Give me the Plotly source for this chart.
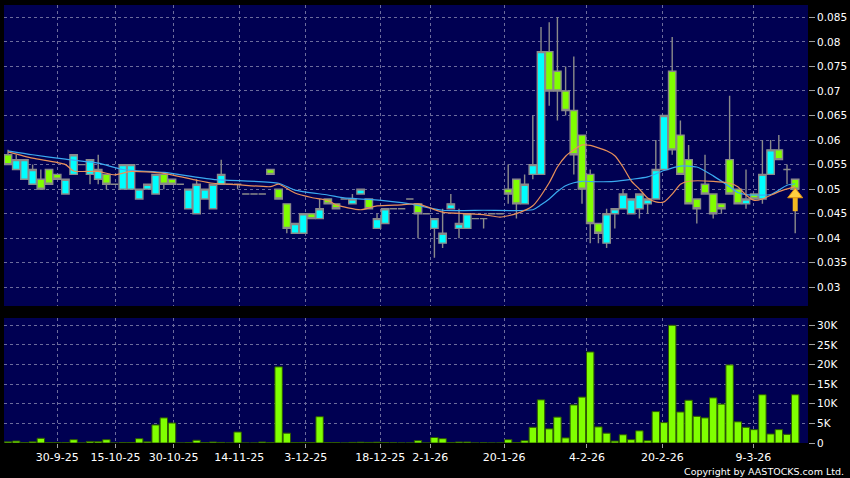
import plotly.graph_objects as go

# ---------------- data ----------------
opens = [0.057, 0.054, 0.052, 0.051, 0.052, 0.054, 0.053, 0.049, 0.053, 0.055,
         0.053, 0.052, 0.053, 0.051, 0.050, 0.050, 0.048, 0.050, 0.049, 0.053,
         0.052, 0.051, 0.046, 0.045, 0.048, 0.046, 0.051, 0.051, 0.051, 0.049,
         0.049, 0.049, 0.054, 0.050, 0.047, 0.041, 0.041, 0.045, 0.044, 0.048,
         0.047, 0.048, 0.047, 0.049, 0.048, 0.042, 0.043, 0.046, 0.046, 0.048,
         0.047, 0.045, 0.042, 0.039, 0.046, 0.042, 0.042, 0.044, 0.044, 0.045,
         0.045, 0.050, 0.052, 0.047, 0.053, 0.053, 0.078, 0.074, 0.070, 0.066,
         0.061, 0.053, 0.043, 0.039, 0.045, 0.046, 0.045, 0.046, 0.047, 0.048,
         0.054, 0.074, 0.061, 0.056, 0.048, 0.051, 0.049, 0.047, 0.056, 0.050,
         0.047, 0.049, 0.048, 0.053, 0.058, 0.054, 0.052]
highs = [0.058, 0.057, 0.056, 0.055, 0.054, 0.054, 0.053, 0.052, 0.057, 0.055,
         0.056, 0.057, 0.053, 0.051, 0.055, 0.055, 0.050, 0.051, 0.053, 0.053,
         0.052, 0.051, 0.050, 0.052, 0.050, 0.051, 0.056, 0.051, 0.051, 0.049,
         0.049, 0.049, 0.054, 0.050, 0.047, 0.043, 0.045, 0.045, 0.048, 0.048,
         0.047, 0.048, 0.049, 0.050, 0.048, 0.045, 0.046, 0.046, 0.046, 0.048,
         0.047, 0.045, 0.044, 0.046, 0.049, 0.046, 0.045, 0.044, 0.044, 0.045,
         0.045, 0.055, 0.052, 0.053, 0.065, 0.083, 0.084, 0.085, 0.075, 0.077,
         0.061, 0.054, 0.043, 0.046, 0.046, 0.050, 0.048, 0.049, 0.048, 0.060,
         0.065, 0.081, 0.064, 0.059, 0.048, 0.057, 0.049, 0.047, 0.069, 0.050,
         0.054, 0.049, 0.060, 0.060, 0.061, 0.055, 0.052]
lows = [0.055, 0.054, 0.052, 0.051, 0.050, 0.051, 0.052, 0.049, 0.053, 0.055,
        0.051, 0.051, 0.050, 0.051, 0.050, 0.050, 0.048, 0.050, 0.049, 0.050,
        0.051, 0.051, 0.046, 0.045, 0.048, 0.046, 0.051, 0.051, 0.050, 0.049,
        0.049, 0.049, 0.053, 0.048, 0.041, 0.041, 0.041, 0.044, 0.044, 0.047,
        0.046, 0.048, 0.047, 0.049, 0.046, 0.042, 0.043, 0.046, 0.046, 0.048,
        0.040, 0.045, 0.036, 0.038, 0.046, 0.040, 0.042, 0.044, 0.042, 0.045,
        0.045, 0.047, 0.044, 0.047, 0.052, 0.053, 0.067, 0.064, 0.065, 0.053,
        0.047, 0.039, 0.039, 0.038, 0.042, 0.046, 0.045, 0.044, 0.045, 0.048,
        0.054, 0.057, 0.053, 0.047, 0.043, 0.049, 0.044, 0.045, 0.049, 0.047,
        0.046, 0.048, 0.047, 0.053, 0.056, 0.051, 0.041]
closes = [0.055, 0.056, 0.056, 0.054, 0.050, 0.051, 0.052, 0.052, 0.057, 0.055,
          0.056, 0.054, 0.051, 0.051, 0.055, 0.055, 0.050, 0.051, 0.053, 0.051,
          0.051, 0.051, 0.050, 0.051, 0.050, 0.051, 0.053, 0.051, 0.051, 0.049,
          0.049, 0.049, 0.053, 0.048, 0.042, 0.043, 0.045, 0.044, 0.046, 0.047,
          0.046, 0.048, 0.048, 0.050, 0.046, 0.044, 0.046, 0.046, 0.046, 0.048,
          0.045, 0.045, 0.044, 0.041, 0.047, 0.043, 0.045, 0.044, 0.044, 0.045,
          0.045, 0.049, 0.047, 0.051, 0.055, 0.078, 0.070, 0.070, 0.066, 0.057,
          0.050, 0.043, 0.041, 0.045, 0.046, 0.049, 0.048, 0.049, 0.048, 0.054,
          0.065, 0.058, 0.053, 0.047, 0.046, 0.049, 0.045, 0.046, 0.049, 0.047,
          0.048, 0.048, 0.053, 0.058, 0.056, 0.054, 0.050]
volumes = [300, 500, 100, 300, 1200, 100, 100, 100, 850, 0,
           400, 350, 850, 0, 100, 100, 1100, 300, 4600, 6400,
           5100, 0, 100, 700, 100, 250, 150, 0, 2800, 0,
           0, 250, 100, 19400, 2500, 100, 150, 100, 6700, 100,
           100, 0, 150, 200, 150, 200, 100, 50, 0, 0,
           600, 0, 1400, 1100, 100, 250, 250, 0, 50, 0,
           0, 850, 100, 600, 4000, 11000, 3600, 6600, 1300, 9700,
           11700, 23200, 4100, 2500, 500, 2100, 850, 3100, 600, 8000,
           5200, 30000, 7900, 10900, 6800, 6400, 11500, 9900, 19900, 5400,
           4000, 3400, 12300, 2300, 3400, 2200, 12300]

# moving-average lines (session index, value)
ma10_idx = [0, 3, 7, 8, 11, 13, 15, 19, 23, 25, 28, 32, 33, 35, 37, 39, 40, 43, 45, 48,
            50, 53, 58, 60, 62, 64, 66, 67, 68, 69, 70, 71, 72, 73, 74, 75, 76, 77, 78,
            79, 80, 81, 82, 83, 86, 88, 89, 90, 91, 92, 94, 96]
ma10_val = [0.0576, 0.0563, 0.0550, 0.0537, 0.0536, 0.0529, 0.0536, 0.0532, 0.0518, 0.0512,
            0.0509, 0.0505, 0.0510, 0.0492, 0.0483, 0.0477, 0.0468, 0.0458, 0.0466, 0.0468,
            0.0470, 0.0453, 0.0448, 0.0443, 0.0450, 0.0466, 0.0513, 0.0545, 0.0567, 0.0580,
            0.0590, 0.0589, 0.0584, 0.0578, 0.0568, 0.0545, 0.0517, 0.0500, 0.0482, 0.0474,
            0.0474, 0.0490, 0.0510, 0.0516, 0.0516, 0.0512, 0.0505, 0.0488, 0.0477, 0.0480,
            0.0495, 0.0505]
ma20_idx = [0, 3, 7, 11, 14, 19, 25, 33, 35, 39, 41, 44, 49, 53, 58, 64, 65, 66, 67, 68,
            69, 70, 72, 74, 76, 78, 80, 82, 84, 86, 88, 89, 90, 93, 95, 96]
ma20_val = [0.0578, 0.0570, 0.0561, 0.0553, 0.0540, 0.0534, 0.0520, 0.0512, 0.0498, 0.0488,
            0.0482, 0.0479, 0.0470, 0.0457, 0.0457, 0.0458, 0.0468, 0.0480, 0.0495, 0.0507,
            0.0513, 0.0516, 0.0515, 0.0516, 0.0520, 0.0525, 0.0538, 0.0547, 0.0545, 0.0527,
            0.0505, 0.0493, 0.0489, 0.0489, 0.0508, 0.0511]

date_tick_pos = [6.0, 13.1, 20.2, 28.2, 36.3, 45.4, 51.5, 60.5, 70.6, 79.8, 90.9]
date_tick_labels = ["30-9-25", "15-10-25", "30-10-25", "14-11-25", "3-12-25", "18-12-25",
                    "2-1-26", "20-1-26", "4-2-26", "20-2-26", "9-3-26"]
price_ticks = [0.03, 0.035, 0.04, 0.045, 0.05, 0.055, 0.06, 0.065, 0.07, 0.075, 0.08, 0.085]
price_tick_labels = ["0.03", "0.035", "0.04", "0.045", "0.05", "0.055", "0.06", "0.065",
                     "0.07", "0.075", "0.08", "0.085"]
vol_ticks = [0, 5000, 10000, 15000, 20000, 25000, 30000]
vol_tick_labels = ["0", "5K", "10K", "15K", "20K", "25K", "30K"]

# ---------------- figure ----------------
idx = list(range(len(closes)))
BG = "#000052"
GRID = "#6C6C9C"
FONT = "DejaVu Sans"

fig = go.Figure()
fig.add_trace(go.Candlestick(
    x=idx, open=opens, high=highs, low=lows, close=closes,
    increasing=dict(fillcolor="#00FFFF", line=dict(color="#8A8A8A", width=1.4)),
    decreasing=dict(fillcolor="#80FF00", line=dict(color="#8A8A8A", width=1.4)),
    whiskerwidth=0, xaxis="x", yaxis="y", showlegend=False, hoverinfo="skip"))
fig.add_trace(go.Scatter(x=ma20_idx, y=ma20_val, mode="lines",
                         line=dict(color="#3AAAF0", width=1.2, shape="spline", smoothing=0.6),
                         xaxis="x", yaxis="y", showlegend=False, hoverinfo="skip"))
fig.add_trace(go.Scatter(x=ma10_idx, y=ma10_val, mode="lines",
                         line=dict(color="#E8905A", width=1.2, shape="spline", smoothing=0.6),
                         xaxis="x", yaxis="y", showlegend=False, hoverinfo="skip"))

# marker arrow under the latest session
last = idx[-1]
fig.add_trace(go.Scatter(x=[last, last], y=[closes[-1] - 0.0045, closes[-1] - 0.0015],
                         mode="lines", line=dict(color="#F2B820", width=5),
                         xaxis="x", yaxis="y", showlegend=False, hoverinfo="skip"))
fig.add_trace(go.Scatter(x=[last], y=[closes[-1] - 0.0011], mode="markers",
                         marker=dict(symbol="triangle-up", size=13, color="#FFD040",
                                     line=dict(color="#E09010", width=1)),
                         xaxis="x", yaxis="y", showlegend=False, hoverinfo="skip"))

fig.add_trace(go.Bar(x=idx, y=volumes, marker=dict(color="#80FF00", line=dict(color="#2E5A00", width=1)),
                     xaxis="x2", yaxis="y2", showlegend=False, hoverinfo="skip"))

axis_common = dict(showline=False, zeroline=False, gridcolor=GRID, griddash="3px,3px",
                   gridwidth=1, automargin=False)
xr = [-0.49, 97.56]

fig.update_layout(
    width=850, height=478,
    margin=dict(l=4, r=42, t=5, b=35, autoexpand=False),
    paper_bgcolor="#000000", plot_bgcolor=BG,
    boxgap=0.1, boxgroupgap=0, bargap=0.1,
    font=dict(family=FONT, color="#FFFFFF", size=11),
    xaxis=dict(domain=[0, 1], anchor="y", range=xr, tickvals=date_tick_pos, ticktext=date_tick_labels,
               showticklabels=False, ticks="", rangeslider=dict(visible=False), **axis_common),
    yaxis=dict(domain=[0.3128, 1], anchor="x", side="right", range=[0.0262, 0.0875],
               tickvals=price_ticks, ticktext=price_tick_labels, ticks="outside", ticklen=6,
               tickcolor="#A0A0A0", tickfont=dict(size=10.5, color="#FFFFFF"), **axis_common),
    xaxis2=dict(domain=[0, 1], anchor="y2", range=xr, matches="x", tickvals=date_tick_pos,
                ticktext=date_tick_labels, ticks="outside", ticklen=4, tickcolor="#A0A0A0",
                tickfont=dict(size=11, color="#FFFFFF"), **axis_common),
    yaxis2=dict(domain=[0, 0.2854], anchor="x2", side="right", range=[0, 31860],
                tickvals=vol_ticks, ticktext=vol_tick_labels, ticks="outside", ticklen=6,
                tickcolor="#A0A0A0", tickfont=dict(size=10.5, color="#FFFFFF"), **axis_common),
    annotations=[dict(text="Copyright by AASTOCKS.com Ltd.", xref="paper", yref="paper",
                      x=1.047, y=-0.064, xanchor="right", yanchor="middle", showarrow=False,
                      font=dict(family=FONT, size=9.5, color="#FFFFFF"))],
)

fig.write_html("out.html", config={"displayModeBar": False},
               post_script="document.body.style.margin='0';")
